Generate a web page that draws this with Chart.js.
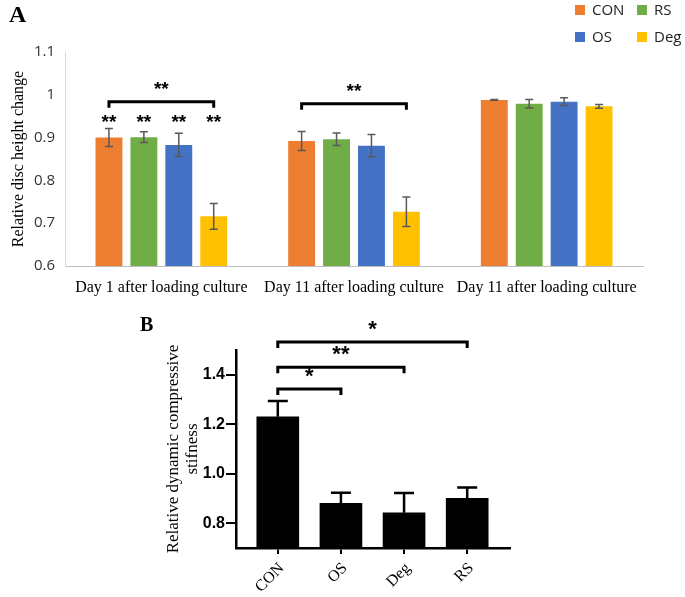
<!DOCTYPE html>
<html>
<head>
<meta charset="utf-8">
<script src="https://cdn.jsdelivr.net/npm/chart.js@4.4.1/dist/chart.umd.min.js"></script>
<style>
    html, body { margin: 0; padding: 0; background: #fff; }
    #wrap { position: relative; width: 685px; height: 597px; }
    .panel { position: absolute; left: 0; width: 685px; }
    #panelA { top: 0; height: 300px; }
    #panelB { top: 300px; height: 297px; }
</style>
</head>
<body>
<div id="wrap">
    <div class="panel" id="panelA"><canvas id="chartA"></canvas></div>
    <div class="panel" id="panelB"><canvas id="chartB"></canvas></div>
</div>
<script>
// Panel A: relative disc height change
const daysA = ['Day 1 after loading culture', 'Day 11 after loading culture', 'Day 11 after loading culture'];
const groupsA = ['CON', 'RS', 'OS', 'Deg'];
const conA = [0.900, 0.892, 0.988];
const rsA = [0.901, 0.896, 0.979];
const osA = [0.883, 0.881, 0.984];
const degA = [0.716, 0.727, 0.973];
const conErrA = [0.021, 0.022, 0.001];
const rsErrA = [0.0125, 0.0145, 0.010];
const osErrA = [0.027, 0.026, 0.009];
const degErrA = [0.030, 0.0345, 0.0045];
const starsA = ['**', '**', '**', '**'];
const bracketsA = [{ day: 0, label: '**' }, { day: 1, label: '**' }];
const yTicksA = [0.6, 0.7, 0.8, 0.9, 1, 1.1];

// Panel B: relative dynamic compressive stiffness
const groupsB = ['CON', 'OS', 'Deg', 'RS'];
const meanB = [1.230, 0.880, 0.842, 0.901];
const errB = [0.064, 0.043, 0.080, 0.043];
const bracketsB = [
    { from: 0, to: 1, label: '*' },
    { from: 0, to: 2, label: '**' },
    { from: 0, to: 3, label: '*' },
];
const yTicksB = [0.8, 1.0, 1.2, 1.4];

const colorsA = ['#ED7D31', '#70AD47', '#4472C4', '#FFC000'];
const serif = '"Liberation Serif", "Times New Roman", serif';
const sans = '"Liberation Sans", Arial, sans-serif';

const errorBarsA = {
    id: 'errorBarsA',
    afterDatasetsDraw(chart) {
        const { ctx } = chart;
        const y = chart.scales.y;
        ctx.save();
        ctx.strokeStyle = '#595959';
        ctx.lineWidth = 1.5;
        chart.data.datasets.forEach((ds, i) => {
            chart.getDatasetMeta(i).data.forEach((bar, j) => {
                const v = ds.data[j], e = ds.errors[j];
                const top = y.getPixelForValue(v + e), bot = y.getPixelForValue(v - e);
                ctx.beginPath();
                ctx.moveTo(bar.x, top); ctx.lineTo(bar.x, bot);
                ctx.moveTo(bar.x - 4, top); ctx.lineTo(bar.x + 4, top);
                ctx.moveTo(bar.x - 4, bot); ctx.lineTo(bar.x + 4, bot);
                ctx.stroke();
            });
        });
        ctx.restore();
    },
};

const legendA = {
    id: 'legendA',
    afterDraw(chart) {
        const { ctx } = chart;
        ctx.save();
        ctx.font = 'bold 24px ' + serif;
        ctx.fillStyle = '#000';
        ctx.textBaseline = 'middle';
        ctx.fillText('A', 9, 16);
        ctx.font = '15px "Open Sans", sans-serif';
        chart.data.datasets.forEach((ds, i) => {
            const x = 575 + (i % 2) * 62;
            const yy = 10 + Math.floor(i / 2) * 27;
            ctx.fillStyle = ds.backgroundColor;
            ctx.fillRect(x, yy - 5, 10, 10);
            ctx.fillStyle = '#222';
            ctx.fillText(ds.label, x + 17, yy + 1);
        });
        ctx.restore();
    },
};

const sigA = {
    id: 'sigA',
    afterDatasetsDraw(chart, args, opts) {
        const { ctx } = chart;
        const y = chart.scales.y;
        ctx.save();
        ctx.fillStyle = '#000';
        ctx.strokeStyle = '#000';
        ctx.font = 'bold 19px ' + sans;
        ctx.textAlign = 'center';
        ctx.textBaseline = 'middle';
        starsA.forEach((s, i) => {
            const bar = chart.getDatasetMeta(i).data[0];
            ctx.fillText(s, bar.x, y.getPixelForValue(opts.starLevel));
        });
        bracketsA.forEach((b, k) => {
            const x0 = chart.getDatasetMeta(0).data[b.day].x;
            const x1 = chart.getDatasetMeta(3).data[b.day].x;
            const yy = y.getPixelForValue(opts.levels[k]);
            ctx.lineWidth = 3;
            ctx.beginPath();
            ctx.moveTo(x0, yy + 6); ctx.lineTo(x0, yy); ctx.lineTo(x1, yy); ctx.lineTo(x1, yy + 6);
            ctx.stroke();
            ctx.fillText(b.label, (x0 + x1) / 2, yy - 12);
        });
        ctx.restore();
    },
};

const seriesA = [conA, rsA, osA, degA];
const errsA = [conErrA, rsErrA, osErrA, degErrA];

new Chart(document.getElementById('chartA'), {
    type: 'bar',
    data: {
        labels: daysA,
        datasets: groupsA.map((g, i) => ({
            label: g,
            data: seriesA[i],
            errors: errsA[i],
            backgroundColor: colorsA[i],
            categoryPercentage: 0.725,
            barPercentage: 0.77,
        })),
    },
    options: {
        responsive: true,
        maintainAspectRatio: false,
        animation: false,
        layout: { padding: { left: 0, right: 42, top: 52, bottom: 0 } },
        plugins: {
            legend: { display: false },
            tooltip: { enabled: false },
            sigA: { starLevel: 0.935, levels: [0.9837, 0.979] },
        },
        scales: {
            x: {
                grid: { display: false, drawTicks: false },
                border: { color: '#bfbfbf', width: 1 },
                ticks: { color: '#000', font: { family: serif, size: 16 }, padding: 12, maxRotation: 0, autoSkip: false },
                afterFit: s => { s.height = 34; },
            },
            y: {
                min: 0.6,
                max: 1.1,
                afterBuildTicks: s => { s.ticks = yTicksA.map(v => ({ value: v })); },
                grid: { display: false, drawTicks: false },
                border: { color: '#d9d9d9', width: 1 },
                ticks: { color: '#333', font: { family: '"Open Sans", sans-serif', size: 15 }, padding: 10, callback: v => String(+v.toFixed(1)) },
                title: { display: true, text: 'Relative disc height change', color: '#000', font: { family: serif, size: 16 }, padding: { top: 9, bottom: 0 } },
                afterFit: s => { s.width = 65; },
            },
        },
    },
    plugins: [errorBarsA, sigA, legendA],
});

const errorBarsB = {
    id: 'errorBarsB',
    afterDatasetsDraw(chart) {
        const { ctx } = chart;
        const y = chart.scales.y;
        const ds = chart.data.datasets[0];
        ctx.save();
        ctx.strokeStyle = '#000';
        ctx.lineWidth = 2.5;
        chart.getDatasetMeta(0).data.forEach((bar, j) => {
            const v = ds.data[j].y;
            const top = y.getPixelForValue(v + ds.errors[j]);
            ctx.beginPath();
            ctx.moveTo(bar.x, y.getPixelForValue(v)); ctx.lineTo(bar.x, top);
            ctx.moveTo(bar.x - 10, top); ctx.lineTo(bar.x + 10, top);
            ctx.stroke();
        });
        ctx.restore();
    },
};

const sigB = {
    id: 'sigB',
    afterDraw(chart, args, opts) {
        const { ctx } = chart;
        const y = chart.scales.y;
        const bars = chart.getDatasetMeta(0).data;
        ctx.save();
        ctx.font = 'bold 20px ' + serif;
        ctx.fillStyle = '#000';
        ctx.textBaseline = 'middle';
        ctx.fillText('B', 140, 26);
        ctx.strokeStyle = '#000';
        ctx.lineWidth = 3;
        ctx.font = 'bold 22px ' + sans;
        ctx.textAlign = 'center';
        bracketsB.forEach((b, k) => {
            const x0 = bars[b.from].x, x1 = bars[b.to].x;
            const yy = y.getPixelForValue(opts.levels[k]);
            ctx.beginPath();
            ctx.moveTo(x0, yy + 6); ctx.lineTo(x0, yy); ctx.lineTo(x1, yy); ctx.lineTo(x1, yy + 6);
            ctx.stroke();
            ctx.fillText(b.label, (x0 + x1) / 2, yy - 12);
        });
        ctx.restore();
    },
};

new Chart(document.getElementById('chartB'), {
    type: 'bar',
    data: {
        datasets: [{
            data: meanB.map((v, i) => ({ x: i, y: v })),
            errors: errB,
            backgroundColor: '#000',
            barThickness: 42,
        }],
    },
    options: {
        responsive: true,
        maintainAspectRatio: false,
        animation: false,
        layout: { padding: { left: 160, right: 175, top: 50, bottom: 0 } },
        plugins: {
            legend: { display: false },
            tooltip: { enabled: false },
            sigB: { levels: [1.342, 1.430, 1.532] },
        },
        scales: {
            x: {
                type: 'linear',
                offset: false,
                min: -0.662,
                max: 3.678,
                afterBuildTicks: s => { s.ticks = groupsB.map((_, i) => ({ value: i })); },
                grid: { offset: false, drawOnChartArea: false, drawTicks: true, tickLength: 6, color: '#000', lineWidth: 2 },
                border: { color: '#000', width: 2.5 },
                ticks: { color: '#000', font: { family: serif, size: 16 }, minRotation: 45, maxRotation: 45, padding: 5, labelOffset: 4, callback: v => groupsB[v] },
                afterFit: s => { s.height = 49; },
            },
            y: {
                min: 0.7,
                max: 1.5,
                afterBuildTicks: s => { s.ticks = yTicksB.map(v => ({ value: v })); },
                grid: { drawOnChartArea: false, drawTicks: true, tickLength: 10, color: '#000', lineWidth: 2 },
                border: { color: '#000', width: 2.5 },
                ticks: { color: '#000', font: { family: sans, size: 16, weight: 'bold' }, padding: 1, callback: v => v.toFixed(1) },
                title: { display: true, text: ['Relative dynamic compressive', 'stifness'], color: '#000', font: { family: serif, size: 17, lineHeight: 1.1 }, padding: { top: 4, bottom: 0 } },
                afterFit: s => { s.width = 76; },
            },
        },
    },
    plugins: [errorBarsB, sigB],
});
</script>
</body>
</html>
